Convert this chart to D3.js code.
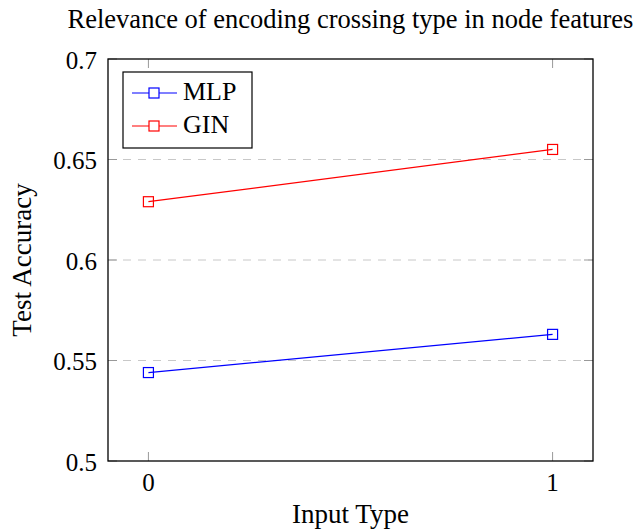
<!DOCTYPE html>
<html>
<head>
<meta charset="utf-8">
<script src="https://cdn.jsdelivr.net/npm/d3@7"></script>
<style>
  body { margin: 0; background: #fff; }
  text { font-family: "Liberation Serif", "DejaVu Serif", serif; fill: #000; }
</style>
</head>
<body>
<div id="myDiv"></div>
<script>
// Data
var xValues = [0, 1];
var mlpValues = [0.544, 0.563];
var ginValues = [0.629, 0.655];
var seriesNames = ['MLP', 'GIN'];
var seriesColors = ['#0000ff', '#ff0000'];
var yTicks = [0.5, 0.55, 0.6, 0.65, 0.7];
var yTickLabels = ['0.5', '0.55', '0.6', '0.65', '0.7'];
var xTicks = [0, 1];

var chartTitle = 'Relevance of encoding crossing type in node features';
var xAxisTitle = 'Input Type';
var yAxisTitle = 'Test Accuracy';

var winWidth = 635, winHeight = 529;
var margin = {top: 59, right: 42, bottom: 68, left: 108};
var width = winWidth - margin.left - margin.right,
    height = winHeight - margin.top - margin.bottom;

var svg = d3.select('#myDiv').append('svg')
  .attr('width', winWidth)
  .attr('height', winHeight);

var g = svg.append('g')
  .attr('transform', 'translate(' + margin.left + ',' + margin.top + ')');

var x = d3.scaleLinear().domain([-0.1, 1.1]).range([0, width]);
var y = d3.scaleLinear().domain([0.5, 0.7]).range([height, 0]);

// dashed grid lines
g.append('g').selectAll('line')
  .data(yTicks.filter(function(d){ return d > 0.5 && d < 0.7; }))
  .enter().append('line')
    .attr('x1', 0).attr('x2', width)
    .attr('y1', function(d){ return y(d); })
    .attr('y2', function(d){ return y(d); })
    .attr('stroke', '#c8c8c8')
    .attr('stroke-width', 1)
    .attr('stroke-dasharray', '8,7');

// inward tick marks
var tickLen = 9;
var ticks = g.append('g').attr('stroke', '#999').attr('stroke-width', 1);
xTicks.forEach(function(t){
  ticks.append('line').attr('x1', x(t)).attr('x2', x(t)).attr('y1', height).attr('y2', height - tickLen);
  ticks.append('line').attr('x1', x(t)).attr('x2', x(t)).attr('y1', 0).attr('y2', tickLen);
});
yTicks.forEach(function(t){
  ticks.append('line').attr('x1', 0).attr('x2', tickLen).attr('y1', y(t)).attr('y2', y(t));
  ticks.append('line').attr('x1', width).attr('x2', width - tickLen).attr('y1', y(t)).attr('y2', y(t));
});

// frame
g.append('rect')
  .attr('width', width).attr('height', height)
  .attr('fill', 'none').attr('stroke', '#000').attr('stroke-width', 1.3);

// tick labels
g.append('g').selectAll('text')
  .data(yTicks)
  .enter().append('text')
    .attr('x', -11)
    .attr('y', function(d){ return y(d); })
    .attr('dy', '0.38em')
    .attr('text-anchor', 'end')
    .style('font-size', '25px')
    .text(function(d, i){ return yTickLabels[i]; });

g.append('g').selectAll('text')
  .data(xTicks)
  .enter().append('text')
    .attr('x', function(d){ return x(d); })
    .attr('y', height + 30)
    .attr('text-anchor', 'middle')
    .style('font-size', '25px')
    .text(function(d){ return d; });

// series
var series = [mlpValues, ginValues];
var line = d3.line()
  .x(function(d, i){ return x(xValues[i]); })
  .y(function(d){ return y(d); });

var ms = 10;
series.forEach(function(vals, s){
  g.append('path')
    .datum(vals)
    .attr('d', line)
    .attr('fill', 'none')
    .attr('stroke', seriesColors[s])
    .attr('stroke-width', 1.2);
  g.append('g').selectAll('rect')
    .data(vals)
    .enter().append('rect')
      .attr('x', function(d, i){ return x(xValues[i]) - ms / 2; })
      .attr('y', function(d){ return y(d) - ms / 2; })
      .attr('width', ms).attr('height', ms)
      .attr('fill', 'none')
      .attr('stroke', seriesColors[s])
      .attr('stroke-width', 1.2);
});

// legend
var legend = g.append('g').attr('transform', 'translate(15,13)');
legend.append('rect')
  .attr('width', 129).attr('height', 76)
  .attr('fill', '#fff').attr('stroke', '#000').attr('stroke-width', 1.2);
seriesNames.forEach(function(name, i){
  var ly = 21 + i * 33;
  legend.append('line')
    .attr('x1', 9).attr('x2', 54).attr('y1', ly).attr('y2', ly)
    .attr('stroke', seriesColors[i]).attr('stroke-width', 1.2);
  legend.append('rect')
    .attr('x', 31 - ms / 2).attr('y', ly - ms / 2)
    .attr('width', ms).attr('height', ms)
    .attr('fill', '#fff').attr('stroke', seriesColors[i]).attr('stroke-width', 1.2);
  legend.append('text')
    .attr('x', 60).attr('y', ly + 7)
    .style('font-size', '26px')
    .text(name);
});

// title & axis titles
svg.append('text')
  .attr('x', margin.left + width / 2).attr('y', 28)
  .attr('text-anchor', 'middle')
  .style('font-size', '26.5px')
  .text(chartTitle);

svg.append('text')
  .attr('x', margin.left + width / 2).attr('y', 523)
  .attr('text-anchor', 'middle')
  .style('font-size', '27px')
  .text(xAxisTitle);

svg.append('text')
  .attr('transform', 'translate(31,' + (margin.top + height / 2) + ') rotate(-90)')
  .attr('text-anchor', 'middle')
  .style('font-size', '27px')
  .text(yAxisTitle);
</script>
</body>
</html>
